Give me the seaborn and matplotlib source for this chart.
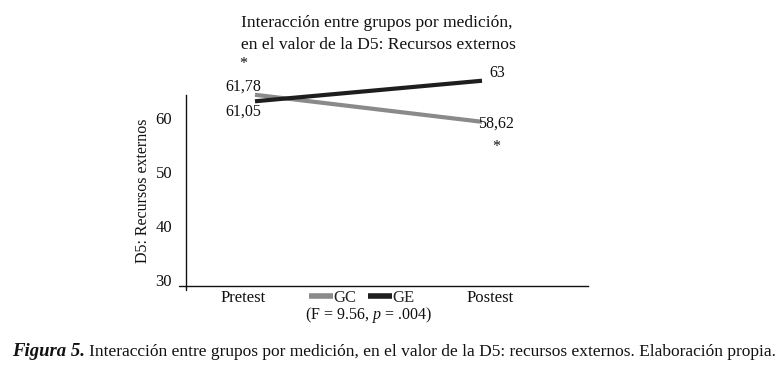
import matplotlib
matplotlib.use("Agg")
import matplotlib.pyplot as plt
import matplotlib.transforms as mtransforms
from matplotlib.lines import Line2D
import seaborn as sns
import pandas as pd

# ---- data ----
mediciones = ["Pretest", "Postest"]
gc_values = [64.3, 59.3]   # plotted positions (as drawn)
ge_values = [63.1, 66.9]
gc_labels = ["61,78", "58,62"]
ge_labels = ["61,05", "63"]
y_ticks = [30, 40, 50, 60]
title_text = "Interacción entre grupos por medición,\nen el valor de la D5: Recursos externos"
ylabel_text = "D5: Recursos externos"
stat_text = "(F = 9.56, $p$ = .004)"

df = pd.DataFrame({
    "Medición": mediciones * 2,
    "Valor": gc_values + ge_values,
    "Grupo": ["GC"] * 2 + ["GE"] * 2,
})

sns.set_theme(style="white")
plt.rcParams["font.family"] = ["Liberation Serif", "DejaVu Serif"]
plt.rcParams["mathtext.fontset"] = "custom"
plt.rcParams["mathtext.it"] = "Liberation Serif:italic"
plt.rcParams["mathtext.rm"] = "Liberation Serif"

W, H = 783, 373
fig = plt.figure(figsize=(W / 100, H / 100), dpi=100)
ax = fig.add_axes([186 / W, 1 - 286 / H, (588 - 186) / W, (286 - 95) / H])

palette = {"GC": "#8a8a8a", "GE": "#1e1e1e"}
sns.lineplot(data=df, x="Medición", y="Valor", hue="Grupo", palette=palette,
             linewidth=3.0, ax=ax, legend=False, sort=False)
for ln in ax.get_lines():
    ln.set_clip_on(False)
    ln.set_solid_capstyle("butt")

ax.set_xlim(-0.304, 1.467)
ax.set_ylim(28.9, 64.26)
ax.set_yticks(y_ticks)
ax.set_yticklabels([str(t) for t in y_ticks], fontsize=12)
ax.set_xticks([0, 1])
ax.set_xticklabels(mediciones, fontsize=12)
ax.tick_params(axis="both", length=0, colors="#111111")
ax.tick_params(axis="y", pad=10)
ax.tick_params(axis="x", pad=3)
ax.set_xlabel("")
ax.set_ylabel(ylabel_text, fontsize=11.5, labelpad=3, color="#111111")

for side in ["top", "right"]:
    ax.spines[side].set_visible(False)
for side in ["left", "bottom"]:
    ax.spines[side].set_color("#111111")
    ax.spines[side].set_linewidth(1.0)

# small axis stubs as in the reference
ax.plot([-0.018, 0], [0, 0], transform=ax.transAxes, color="#111111", lw=1.0, clip_on=False)
ax.plot([0, 0], [-0.02, 0], transform=ax.transAxes, color="#111111", lw=1.0, clip_on=False)

# shift category labels like the reference
shifts = [-12, 8]
for lab, dx in zip(ax.get_xticklabels(), shifts):
    lab.set_transform(lab.get_transform() + mtransforms.ScaledTranslation(dx / 100, 0, fig.dpi_scale_trans))

# data labels
px = 0.72
def lab(x, y, s, dx, dy):
    ax.annotate(s, (x, y), xytext=(dx * px, dy * px), textcoords="offset points",
                ha="center", va="center", fontsize=11.5, color="#111111", annotation_clip=False)

lab(0, gc_values[0], gc_labels[0], -12, 8)
lab(0, ge_values[0], ge_labels[0], -12, -10)
lab(1, ge_values[1], ge_labels[1], 15, 8)
lab(1, gc_values[1], gc_labels[1], 14, -2)
lab(0, gc_values[0], "*", -12, 31)
lab(1, gc_values[1], "*", 14, -25)

# title
fig.text(241 / W, 1 - 34 / H, title_text, ha="left", va="center", fontsize=12.6,
         color="#111111", linespacing=1.48)

# legend
handles = [Line2D([], [], color=palette["GC"], lw=4, solid_capstyle="butt"),
           Line2D([], [], color=palette["GE"], lw=4, solid_capstyle="butt")]
fig.legend(handles, ["GC", "GE"], loc="center", bbox_to_anchor=(362 / W, 1 - 298 / H),
           ncol=2, frameon=False, fontsize=12, handlelength=1.4, handletextpad=0.05,
           columnspacing=0.7, borderpad=0, borderaxespad=0)

fig.text(368 / W, 1 - 315 / H, stat_text, ha="center", va="center", fontsize=11.5, color="#111111")

# caption
fig.text(12 / W, 1 - 352 / H, "Figura 5.", ha="left", va="center", fontsize=13.5,
         fontweight="bold", fontstyle="italic", color="#111111")
fig.text(89 / W, 1 - 352 / H,
         "Interacción entre grupos por medición, en el valor de la D5: recursos externos. Elaboración propia.",
         ha="left", va="center", fontsize=12.5, color="#111111")

fig.savefig("out.png", dpi=100, facecolor="white")
